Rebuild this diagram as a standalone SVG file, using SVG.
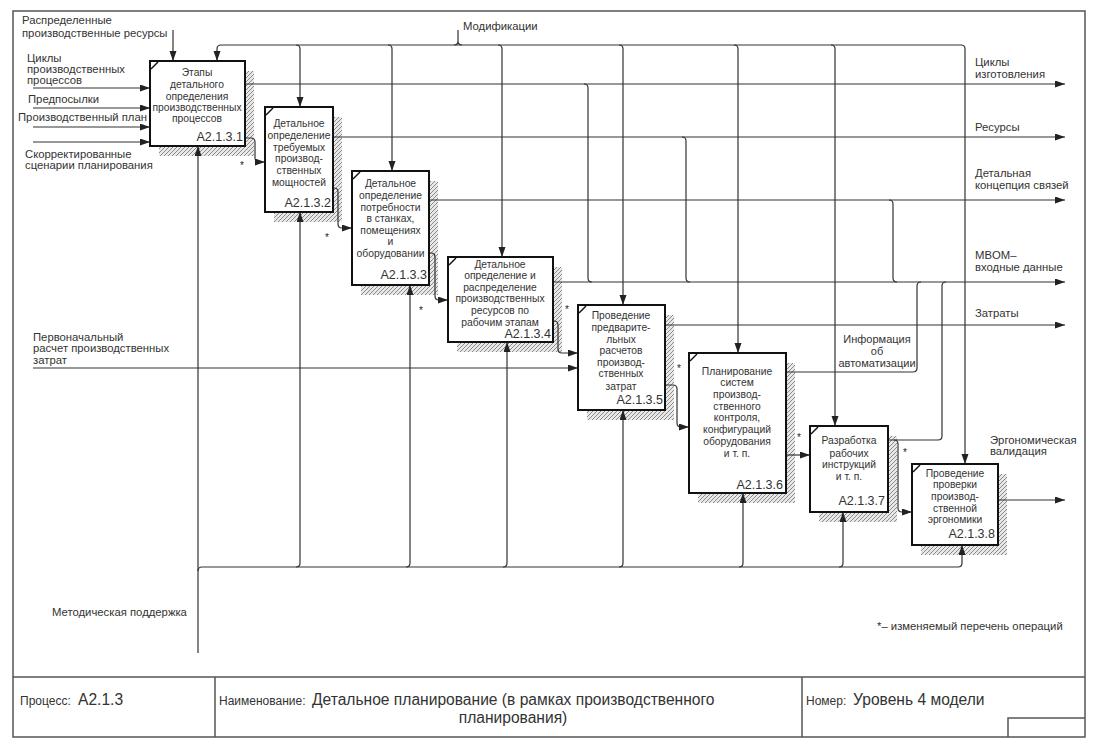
<svg xmlns="http://www.w3.org/2000/svg" width="1102" height="756" viewBox="0 0 1102 756">
<style>
text{font-family:"Liberation Sans",Arial,sans-serif;fill:#333}
.bt{font-size:10.3px;text-anchor:middle}
.id{font-size:12.5px;text-anchor:end}
.lb{font-size:11.3px}
.sm{font-size:11px}
.st{font-size:10px;fill:#222}
.box{fill:#fff;stroke:#111;stroke-width:2}
.tick{stroke:#111;stroke-width:1.5}
.sh{fill:url(#hatch)}
.c{fill:none;stroke:#333;stroke-width:1.2}
.a{marker-end:url(#arr)}
.fr{fill:none;stroke:#555;stroke-width:1.5}
.ft{font-size:12px}
.fm{font-size:15.6px}
</style>
<defs>
<pattern id="hatch" patternUnits="userSpaceOnUse" width="4" height="4">
<rect width="4" height="4" fill="#e8e8e8"/>
<path d="M0,4 L4,0 M-1,1 L1,-1 M3,5 L5,3" stroke="#8a8a8a" stroke-width="1"/>
</pattern>
<marker id="arr" markerUnits="userSpaceOnUse" markerWidth="11" markerHeight="8" refX="10" refY="3.5" orient="auto">
<path d="M0,0 L10,3.5 L0,7 z" fill="#222"/>
</marker>
</defs>
<rect width="1102" height="756" fill="#fff"/>
<g id="frame">
<rect class="fr" x="13" y="11" width="1072" height="726"/>
<path class="fr" d="M13 677 H1085 M215 677 V737 M802 677 V737 M1008 737 V718 H1085"/>
<text class="ft" x="20" y="705">Процесс:</text>
<text class="fm" x="78" y="705">A2.1.3</text>
<text class="ft" x="219" y="705">Наименование:</text>
<text class="fm" x="312" y="705">Детальное планирование (в рамках производственного</text>
<text class="fm" x="513" y="723" text-anchor="middle">планирования)</text>
<text class="ft" x="806" y="705">Номер:</text>
<text class="fm" x="853" y="705">Уровень 4 модели</text>
</g>
<g id="shadows">
<rect class="sh" x="159" y="71" width="95" height="85"/>
<rect class="sh" x="274" y="117" width="68" height="105"/>
<rect class="sh" x="361" y="181" width="77" height="114"/>
<rect class="sh" x="457" y="267" width="105" height="85"/>
<rect class="sh" x="587" y="315" width="87" height="105"/>
<rect class="sh" x="698" y="363" width="97" height="140"/>
<rect class="sh" x="819" y="436" width="78" height="86"/>
<rect class="sh" x="921" y="474" width="86" height="81"/>
</g>
<g id="connectors">
<path class="c a" d="M173 30 V61"/>
<path class="c a" d="M33 88 H150"/>
<path class="c a" d="M33 108 H150"/>
<path class="c a" d="M33 127 H150"/>
<path class="c a" d="M33 142 H150"/>
<path class="c a" d="M33 368 H578"/>
<path class="c" d="M454 45 Q458 45 458 41 V30 M462 45 Q458 45 458 41"/>
<path class="c a" d="M458 45 H221 Q217 45 217 49 V61"/>
<path class="c a" d="M458 45 H961 Q965 45 965 49 V464"/>
<path class="c a" d="M296 45 Q300 45 300 49 V107"/>
<path class="c a" d="M388 45 Q392 45 392 49 V171"/>
<path class="c a" d="M498 45 Q502 45 502 49 V257"/>
<path class="c a" d="M619 45 Q623 45 623 49 V305"/>
<path class="c a" d="M734 45 Q738 45 738 49 V353"/>
<path class="c a" d="M831 45 Q835 45 835 49 V426"/>
<path class="c a" d="M245 84 H1065"/>
<path class="c a" d="M333 137 H1065"/>
<path class="c a" d="M429 200 H1065"/>
<path class="c a" d="M553 282 H1065"/>
<path class="c a" d="M665 325 H1065"/>
<path class="c a" d="M998 500 H1065"/>
<path class="c" d="M584 84 Q588 84 588 88 V278 Q588 282 592 282"/>
<path class="c" d="M682 137 Q686 137 686 141 V278 Q686 282 690 282"/>
<path class="c" d="M889 200 Q893 200 893 204 V278 Q893 282 897 282"/>
<path class="c" d="M786 372 H913 Q917 372 917 368 V286 Q917 282 921 282"/>
<path class="c" d="M888 440 H938 Q942 440 942 436 V286 Q942 282 946 282"/>
<path class="c a" d="M245 138 H251 Q255 138 255 142 V158 Q255 162 259 162 H265"/>
<path class="c a" d="M333 188 H334 Q338 188 338 192 V224 Q338 228 342 228 H352"/>
<path class="c a" d="M429 253 H431 Q435 253 435 257 V296 Q435 300 439 300 H448"/>
<path class="c a" d="M553 321 H554 Q558 321 558 325 V349 Q558 353 562 353 H578"/>
<path class="c a" d="M665 385 H673 Q677 385 677 389 V423 Q677 427 681 427 H689"/>
<path class="c a" d="M786 455 H810"/>
<path class="c a" d="M894 440 Q898 440 898 444 V508 Q898 512 902 512 H912"/>
<path class="c a" d="M198 653 V146"/>
<path class="c a" d="M198 571 Q198 567 202 567 H958 Q962 567 962 563 V545"/>
<path class="c a" d="M296 567 Q300 567 300 563 V212"/>
<path class="c a" d="M406 567 Q410 567 410 563 V285"/>
<path class="c a" d="M503 567 Q507 567 507 563 V342"/>
<path class="c a" d="M619 567 Q623 567 623 563 V410"/>
<path class="c a" d="M739 567 Q743 567 743 563 V493"/>
<path class="c a" d="M839 567 Q843 567 843 563 V512"/>
</g>
<g id="labels">
<text class="lb" x="22" y="24">Распределенные</text>
<text class="lb" x="22" y="37">производственные ресурсы</text>
<text class="lb" x="27" y="62">Циклы</text>
<text class="lb" x="27" y="73">производственных</text>
<text class="lb" x="27" y="84">процессов</text>
<text class="lb" x="28" y="103">Предпосылки</text>
<text class="lb" x="18" y="121" font-size="10.7">Производственный план</text>
<text class="lb" x="25" y="158">Скорректированные</text>
<text class="lb" x="25" y="169">сценарии планирования</text>
<text class="lb" x="463" y="30">Модификации</text>
<text class="lb" x="975" y="66">Циклы</text>
<text class="lb" x="975" y="78">изготовления</text>
<text class="lb" x="975" y="131">Ресурсы</text>
<text class="lb" x="975" y="177">Детальная</text>
<text class="lb" x="975" y="189">концепция связей</text>
<text class="lb" x="975" y="259">MBOM–</text>
<text class="lb" x="975" y="271">входные данные</text>
<text class="lb" x="975" y="317">Затраты</text>
<text class="sm" x="877" y="343" text-anchor="middle">Информация</text>
<text class="sm" x="877" y="355" text-anchor="middle">об</text>
<text class="sm" x="877" y="367" text-anchor="middle">автоматизации</text>
<text class="lb" x="990" y="444">Эргономическая</text>
<text class="lb" x="990" y="455">валидация</text>
<text class="lb" x="33" y="341">Первоначальный</text>
<text class="lb" x="33" y="352">расчет производственных</text>
<text class="lb" x="33" y="364">затрат</text>
<text class="lb" x="52" y="616">Методическая поддержка</text>
<text class="lb" x="877" y="630" font-size="11.7">*– изменяемый перечень операций</text>
<text class="st" x="240" y="169">*</text>
<text class="st" x="325" y="241">*</text>
<text class="st" x="419" y="314">*</text>
<text class="st" x="565" y="313">*</text>
<text class="st" x="677" y="372">*</text>
<text class="st" x="797" y="441">*</text>
<text class="st" x="903" y="456">*</text>
</g>
<g id="box1">
<rect class="box" x="150" y="61" width="95" height="85"/>
<path class="tick" d="M151 69 L158 62"/>
<text class="bt" x="197" y="75.5">Этапы</text>
<text class="bt" x="197" y="87.5">детального</text>
<text class="bt" x="197" y="99.5">определения</text>
<text class="bt" x="197" y="110.5">производственных</text>
<text class="bt" x="197" y="121.5">процессов</text>
<text class="id" x="243" y="141">A2.1.3.1</text>
</g>
<g id="box2">
<rect class="box" x="265" y="107" width="68" height="105"/>
<path class="tick" d="M266 115 L273 108"/>
<text class="bt" x="299" y="126.5">Детальное</text>
<text class="bt" x="299" y="138.5">определение</text>
<text class="bt" x="299" y="150.5">требуемых</text>
<text class="bt" x="299" y="161.5">производ-</text>
<text class="bt" x="299" y="173.5">ственных</text>
<text class="bt" x="299" y="185.5">мощностей</text>
<text class="id" x="331" y="207">A2.1.3.2</text>
</g>
<g id="box3">
<rect class="box" x="352" y="171" width="77" height="114"/>
<path class="tick" d="M353 179 L360 172"/>
<text class="bt" x="390.5" y="186.5">Детальное</text>
<text class="bt" x="390.5" y="198.5">определение</text>
<text class="bt" x="390.5" y="210.5">потребности</text>
<text class="bt" x="390.5" y="221.5">в станках,</text>
<text class="bt" x="390.5" y="233.5">помещениях</text>
<text class="bt" x="390.5" y="244.5">и</text>
<text class="bt" x="390.5" y="256.5">оборудовании</text>
<text class="id" x="427" y="279">A2.1.3.3</text>
</g>
<g id="box4">
<rect class="box" x="448" y="257" width="105" height="85"/>
<path class="tick" d="M449 265 L456 258"/>
<text class="bt" x="500" y="267.5">Детальное</text>
<text class="bt" x="500" y="278.5">определение и</text>
<text class="bt" x="500" y="290.5">распределение</text>
<text class="bt" x="500" y="301.5">производственных</text>
<text class="bt" x="500" y="313.5">ресурсов по</text>
<text class="bt" x="500" y="325.5">рабочим этапам</text>
<text class="id" x="551" y="338">A2.1.3.4</text>
</g>
<g id="box5">
<rect class="box" x="578" y="305" width="87" height="105"/>
<path class="tick" d="M579 313 L586 306"/>
<text class="bt" x="621" y="318.5">Проведение</text>
<text class="bt" x="621" y="330.5">предварите-</text>
<text class="bt" x="621" y="342.5">льных</text>
<text class="bt" x="621" y="353.5">расчетов</text>
<text class="bt" x="621" y="365.5">производ-</text>
<text class="bt" x="621" y="376.5">ственных</text>
<text class="bt" x="621" y="389.5">затрат</text>
<text class="id" x="663" y="404">A2.1.3.5</text>
</g>
<g id="box6">
<rect class="box" x="689" y="353" width="97" height="140"/>
<path class="tick" d="M690 361 L697 354"/>
<text class="bt" x="737" y="374.5">Планирование</text>
<text class="bt" x="737" y="385.5">систем</text>
<text class="bt" x="737" y="397.5">производ-</text>
<text class="bt" x="737" y="409.5">ственного</text>
<text class="bt" x="737" y="420.5">контроля,</text>
<text class="bt" x="737" y="432.5">конфигураций</text>
<text class="bt" x="737" y="444.5">оборудования</text>
<text class="bt" x="737" y="456.5">и т. п.</text>
<text class="id" x="783" y="489">A2.1.3.6</text>
</g>
<g id="box7">
<rect class="box" x="810" y="426" width="78" height="86"/>
<path class="tick" d="M811 434 L818 427"/>
<text class="bt" x="849" y="443.5">Разработка</text>
<text class="bt" x="849" y="456.5">рабочих</text>
<text class="bt" x="849" y="467.5">инструкций</text>
<text class="bt" x="849" y="479.5">и т. п.</text>
<text class="id" x="885" y="505">A2.1.3.7</text>
</g>
<g id="box8">
<rect class="box" x="912" y="464" width="86" height="81"/>
<path class="tick" d="M913 472 L920 465"/>
<text class="bt" x="955" y="476.5">Проведение</text>
<text class="bt" x="955" y="487.5">проверки</text>
<text class="bt" x="955" y="499.5">производ-</text>
<text class="bt" x="955" y="511.5">ственной</text>
<text class="bt" x="955" y="522.5">эргономики</text>
<text class="id" x="995" y="538">A2.1.3.8</text>
</g>
</svg>
